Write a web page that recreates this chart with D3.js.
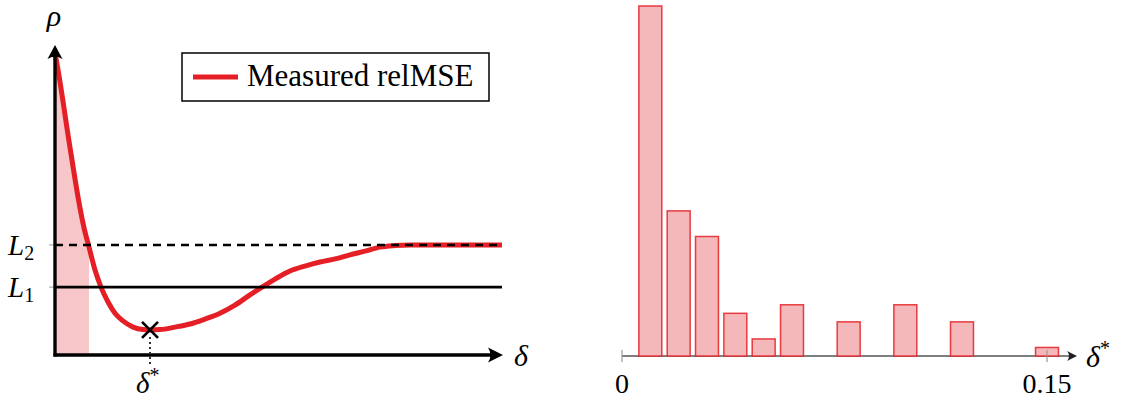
<!DOCTYPE html>
<html><head><meta charset="utf-8">
<script src="https://cdn.jsdelivr.net/npm/d3@7/dist/d3.min.js"></script>
<style>body{margin:0;background:#fff}svg{display:block}text{font-family:"Liberation Serif","DejaVu Serif",serif;fill:#000}</style>
</head><body>
<svg id="c" width="1122" height="401"></svg>
<script>
// ---- Left panel data (delta and rho in arbitrary units 0..100) ----
const curveDelta = [0, 1.12, 2.01, 2.91, 3.80, 4.70, 5.59, 6.49, 7.61, 8.95, 10.29, 11.86, 13.42, 15.21, 17.45, 19.69, 21.25, 23.49, 26.85, 30.20, 33.56, 36.91, 40.27, 43.62, 46.31, 49.22, 52.57, 55.93, 59.28, 62.64, 65.99, 69.35, 72.71, 76.06, 79.42, 100];
const curveRho   = [97.5, 88.1, 79.7, 71.0, 62.9, 54.8, 47.4, 41.0, 34.8, 27.4, 21.9, 17.1, 13.5, 11.0, 9.0, 8.2, 8.1, 8.2, 9.0, 10.0, 11.6, 13.5, 16.1, 19.4, 21.9, 24.5, 27.1, 28.7, 30.0, 31.0, 32.3, 33.5, 34.8, 35.3, 35.5, 35.5];
const levels = [{name:"L", sub:"2", value:35.5, dashed:true}, {name:"L", sub:"1", value:21.9, dashed:false}];
const deltaStar = 21.25;
const shadeEnd = 7.6;
const legendLabel = "Measured relMSE";

// ---- Right panel data (histogram of delta*) ----
const binCenters = [0, 0.01, 0.02, 0.03, 0.04, 0.05, 0.06, 0.07, 0.08, 0.09, 0.10, 0.11, 0.12, 0.13, 0.14, 0.15];
const binCounts  = [0, 41, 17, 14, 5, 2, 6, 0, 4, 0, 6, 0, 4, 0, 0, 1];
const binWidth = 0.0081;
const histTicks = [0, 0.15];
const histTickLabels = ["0", "0.15"];

const red = "#e41f25";
const svg = d3.select("#c");

// ================= LEFT PANEL =================
const x = d3.scaleLinear().domain([0, 100]).range([55, 502]);
const y = d3.scaleLinear().domain([0, 100]).range([355, 45]);
const pts = curveDelta.map((d, i) => [d, curveRho[i]]);
const L = svg.append("g");

// shaded area under curve from 0 to shadeEnd
const shadePts = pts.filter(p => p[0] <= shadeEnd);
const last = shadePts[shadePts.length - 1];
if (last[0] < shadeEnd) {
  const j = pts.findIndex(p => p[0] > shadeEnd);
  const a = pts[j - 1], b = pts[j];
  shadePts.push([shadeEnd, a[1] + (b[1] - a[1]) * (shadeEnd - a[0]) / (b[0] - a[0])]);
}
L.append("path")
  .attr("d", d3.area().x(p => x(p[0])).y0(y(0)).y1(p => y(p[1])).curve(d3.curveMonotoneX)(shadePts))
  .attr("fill", "#f7c6c8");

// ticks at levels
levels.forEach(l => {
  L.append("line").attr("x1", x(0) - 6).attr("x2", x(0)).attr("y1", y(l.value)).attr("y2", y(l.value))
    .attr("stroke", "#999").attr("stroke-width", 1);
});

// curve
L.append("path")
  .attr("d", d3.line().x(p => x(p[0])).y(p => y(p[1])).curve(d3.curveMonotoneX)(pts))
  .attr("fill", "none").attr("stroke", red).attr("stroke-width", 5).attr("stroke-linejoin", "round");

// level lines
levels.forEach(l => {
  L.append("line").attr("x1", x(0)).attr("x2", x(100)).attr("y1", y(l.value)).attr("y2", y(l.value))
    .attr("stroke", "#000").attr("stroke-width", 2.6)
    .attr("stroke-dasharray", l.dashed ? "8,6" : null);
  const t = L.append("text").attr("x", 8).attr("y", y(l.value) + 10).attr("font-size", 29);
  t.append("tspan").attr("font-style", "italic").text(l.name);
  t.append("tspan").attr("font-size", 20).attr("dy", 5).text(l.sub);
});

// axes
L.append("line").attr("x1", x(0)).attr("x2", x(0)).attr("y1", y(0) + 1.5).attr("y2", 56)
  .attr("stroke", "#000").attr("stroke-width", 3.4);
L.append("line").attr("x1", x(0) - 1.5).attr("x2", 492).attr("y1", y(0)).attr("y2", y(0))
  .attr("stroke", "#000").attr("stroke-width", 3.4);
// arrowheads
const ax = x(0), topY = 45;
L.append("path").attr("d", `M${ax},${topY} L${ax + 7.5},${topY + 14} Q${ax},${topY + 9} ${ax - 7.5},${topY + 14} Z`).attr("fill", "#000");
const tipX = 503, by = y(0);
L.append("path").attr("d", `M${tipX},${by} L${tipX - 15},${by - 7.5} Q${tipX - 10},${by} ${tipX - 15},${by + 7.5} Z`).attr("fill", "#000");

// axis labels
L.append("text").attr("x", 54).attr("y", 26).attr("text-anchor", "middle").attr("font-size", 30).attr("font-style", "italic").text("ρ");
L.append("text").attr("x", 514).attr("y", 366).attr("font-size", 30).attr("font-style", "italic").text("δ");

// delta* marker
const sx = x(deltaStar), sy = y(8.1);
L.append("line").attr("x1", sx).attr("x2", sx).attr("y1", sy + 7).attr("y2", 364)
  .attr("stroke", "#333").attr("stroke-width", 2).attr("stroke-dasharray", "2,3");
[[-8, -8, 8, 8], [-8, 8, 8, -8]].forEach(s => {
  L.append("line").attr("x1", sx + s[0]).attr("y1", sy + s[1]).attr("x2", sx + s[2]).attr("y2", sy + s[3])
    .attr("stroke", "#000").attr("stroke-width", 2.6);
});
const ds = L.append("text").attr("x", sx - 14).attr("y", 393).attr("font-size", 29);
ds.append("tspan").attr("font-style", "italic").text("δ");
ds.append("tspan").attr("font-size", 20).attr("dy", -11).text("*");

// legend
L.append("rect").attr("x", 182).attr("y", 53).attr("width", 307).attr("height", 48)
  .attr("fill", "#fff").attr("stroke", "#000").attr("stroke-width", 1.5);
L.append("line").attr("x1", 193).attr("x2", 238).attr("y1", 77).attr("y2", 77).attr("stroke", red).attr("stroke-width", 5);
L.append("text").attr("x", 247).attr("y", 86).attr("font-size", 31).text(legendLabel);

// ================= RIGHT PANEL =================
const hx = d3.scaleLinear().domain([0, 0.15]).range([622, 1047]);
const hy = d3.scaleLinear().domain([0, 41]).range([356, 6]);
const R = svg.append("g");
svg.append("defs").append("clipPath").attr("id", "hc").append("rect")
  .attr("x", hx(0)).attr("y", 0).attr("width", 500).attr("height", 401);

// axis line
R.append("line").attr("x1", hx(0)).attr("x2", 1070).attr("y1", hy(0)).attr("y2", hy(0))
  .attr("stroke", "#555").attr("stroke-width", 1.6);
R.append("path").attr("d", `M1077,${hy(0)} L1067,${hy(0) - 5} Q1071,${hy(0)} 1067,${hy(0) + 5} Z`).attr("fill", "#222");

// bars
R.append("g").attr("clip-path", "url(#hc)").selectAll("rect").data(binCenters).join("rect")
  .attr("x", d => hx(d - binWidth / 2))
  .attr("width", hx(binWidth) - hx(0))
  .attr("y", (d, i) => hy(binCounts[i]))
  .attr("height", (d, i) => hy(0) - hy(binCounts[i]))
  .attr("fill", "#f5b8ba")
  .attr("stroke", red).attr("stroke-opacity", 0.85).attr("stroke-width", 1.5);

// ticks
R.selectAll(".tk").data(histTicks).join("line")
  .attr("x1", d => hx(d)).attr("x2", d => hx(d)).attr("y1", hy(0) - 6).attr("y2", hy(0) + 6)
  .attr("stroke", "#999").attr("stroke-width", 1.2);
R.selectAll(".tl").data(histTicks).join("text")
  .attr("x", d => hx(d)).attr("y", 393).attr("text-anchor", "middle").attr("font-size", 28)
  .text((d, i) => histTickLabels[i]);
const hl = R.append("text").attr("x", 1086).attr("y", 367).attr("font-size", 30);
hl.append("tspan").attr("font-style", "italic").text("δ");
hl.append("tspan").attr("font-size", 20).attr("dy", -12).text("*");
</script>
</body></html>
